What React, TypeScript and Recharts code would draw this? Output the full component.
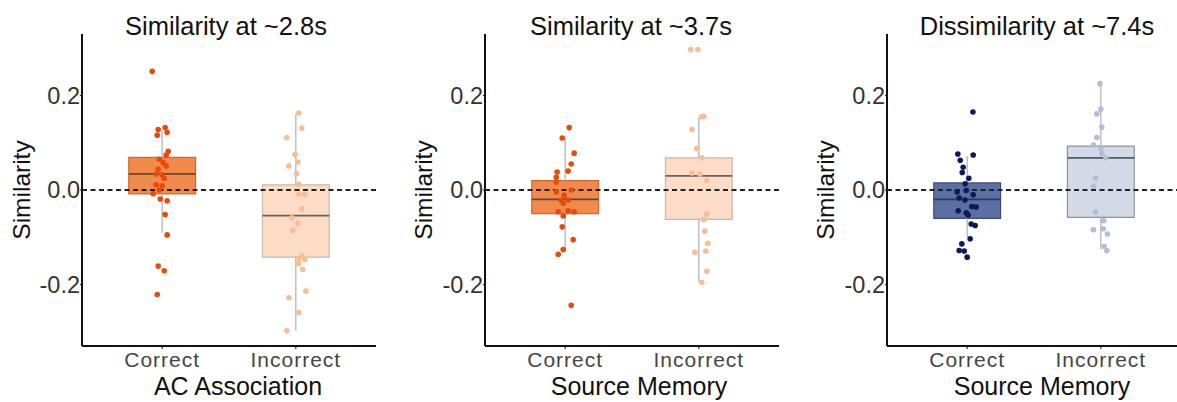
import React from "react";
import {
  ReferenceArea,
  ReferenceLine,
  Scatter,
  ScatterChart,
  XAxis,
  YAxis,
} from "recharts";

const FONT = '"Liberation Sans", Arial, Helvetica, sans-serif';

const categories = ["Correct", "Incorrect"];
const yTicks = [-0.2, 0, 0.2];

const panelTitles = [
  "Similarity at ~2.8s",
  "Similarity at ~3.7s",
  "Dissimilarity at ~7.4s",
];
const panelXTitles = ["AC Association", "Source Memory", "Source Memory"];

// box stats: lower whisker, q1, median, q3, upper whisker

// panel 1 - AC association
const acCorrect = [
  0.251, 0.128, 0.132, 0.122, 0.116, 0.082, 0.074, 0.065, 0.058, 0.051, 0.044,
  0.034, 0.032, 0.025, 0.011, 0.009, 0.0, -0.008, -0.019, -0.023, -0.052,
  -0.095, -0.161, -0.171, -0.221,
];
const acCorrectJitter = [
  -0.075, -0.03, 0.022, 0.037, -0.037, 0.045, 0.03, -0.022, 0.007, 0.03, -0.03,
  -0.045, 0, 0.015, -0.045, 0, -0.022, -0.067, -0.015, 0.037, 0.022, 0.037,
  -0.03, 0.015, -0.037,
];
const acIncorrect = [
  0.163, 0.131, 0.111, 0.075, 0.059, 0.051, 0.035, 0.012, -0.009, -0.009,
  -0.04, -0.059, -0.07, -0.086, -0.139, -0.146, -0.147, -0.156, -0.168, -0.214,
  -0.228, -0.259, -0.298,
];
const acIncorrectJitter = [
  0.022, 0.045, -0.067, -0.007, 0.015, -0.052, 0.007, 0.022, 0.022, 0.067,
  0.045, -0.03, 0.015, -0.022, 0.045, 0.022, 0.067, 0.022, 0.052, 0.075,
  -0.052, 0.022, -0.067,
];
const acCorrectBox = [-0.091, -0.008, 0.034, 0.069, 0.126];
const acIncorrectBox = [-0.297, -0.142, -0.054, 0.011, 0.162];

// panel 2 - source memory ~3.7s
const smCorrect = [
  0.132, 0.11, 0.078, 0.055, 0.04, 0.038, 0.027, 0.017, 0.0, -0.004, -0.011,
  -0.021, -0.021, -0.028, -0.046, -0.044, -0.046, -0.055, -0.078, -0.105,
  -0.126, -0.136, -0.244,
];
const smCorrectJitter = [
  0.03, -0.022, 0.067, 0.045, 0.022, -0.06, -0.067, -0.067, 0.045, -0.067,
  -0.007, 0.022, -0.03, -0.015, -0.052, 0.022, 0.067, -0.015, -0.022, 0.06,
  -0.015, -0.052, 0.045,
];
const smIncorrect = [
  0.297, 0.297, 0.155, 0.156, 0.128, 0.088, 0.068, 0.036, 0.034, 0.02, -0.051,
  -0.063, -0.087, -0.113, -0.132, -0.129, -0.172, -0.195,
];
const smIncorrectJitter = [
  -0.06, -0.007, 0.022, 0.037, -0.052, -0.015, 0.022, -0.052, 0.007, 0.06,
  0.06, 0.037, 0.045, 0.067, -0.03, 0.052, 0.06, 0.022,
];
const smCorrectBox = [-0.13, -0.05, -0.02, 0.02, 0.111];
const smIncorrectBox = [-0.194, -0.062, 0.03, 0.068, 0.153];

// panel 3 - source memory ~7.4s
const dsCorrect = [
  0.165, 0.076, 0.074, 0.063, 0.048, 0.037, 0.025, 0.013, -0.004, -0.001,
  -0.01, -0.017, -0.021, -0.035, -0.036, -0.044, -0.048, -0.053, -0.072,
  -0.075, -0.103, -0.114, -0.128, -0.129, -0.142,
];
const dsCorrectJitter = [
  0.043, -0.07, 0.045, -0.052, -0.03, -0.037, 0.012, -0.015, -0.075, -0.007,
  0.045, -0.06, -0.017, 0.035, 0.067, -0.067, -0.007, 0.007, 0.03, 0.06, 0.022,
  -0.04, -0.06, -0.022, 0,
];
const dsIncorrect = [
  0.225, 0.171, 0.161, 0.133, 0.111, 0.095, 0.088, 0.077, 0.068, 0.025, 0.008,
  -0.046, -0.065, -0.084, -0.082, -0.093, -0.119, -0.128,
];
const dsIncorrectJitter = [
  -0.007, 0, -0.03, 0.007, -0.03, -0.055, 0, 0.007, 0.037, -0.04, -0.055,
  -0.04, 0.022, -0.055, 0.018, 0.05, 0.025, 0.045,
];
const dsCorrectBox = [-0.1, -0.06, -0.02, 0.015, 0.072];
const dsIncorrectBox = [-0.126, -0.058, 0.068, 0.093, 0.226];

const ORANGE = { box: "#f28a4c", border: "#c96a32", median: "#5a4a40", dot: "#e84a08" };
const PEACH = { box: "#fcdcc6", border: "#c7b9ae", median: "#6a625c", dot: "#f8bd94" };
const NAVY = { box: "#5b6fa2", border: "#3e4d76", median: "#2c3858", dot: "#0c1a58" };
const MIST = { box: "#d4d9e7", border: "#8d93a5", median: "#555a66", dot: "#b4bdd8" };

type Group = {
  values: number[];
  jitter: number[];
  box: number[];
  colors: typeof ORANGE;
};

type PanelProps = {
  left: number;
  title: string;
  titleX: number;
  xTitle: string;
  xTitleX: number;
  yLabelX: number;
  groups: Group[];
};

function Panel({ left, title, titleX, xTitle, xTitleX, yLabelX, groups }: PanelProps) {
  return (
    <>
      <div
        style={{
          position: "absolute",
          left: titleX - 150,
          width: 300,
          top: 13.5,
          fontSize: 25.5,
          lineHeight: "25px",
          textAlign: "center",
          color: "#111",
          whiteSpace: "nowrap",
        }}
      >
        {title}
      </div>

      <div
        style={{
          position: "absolute",
          left: yLabelX - 100,
          width: 200,
          top: 190 - 12,
          fontSize: 24.5,
          lineHeight: "24px",
          textAlign: "center",
          color: "#111",
          transform: "rotate(-90deg)",
          transformOrigin: "center",
        }}
      >
        Similarity
      </div>

      <div
        style={{
          position: "absolute",
          left: xTitleX - 150,
          width: 300,
          top: 374,
          fontSize: 25,
          lineHeight: "25px",
          textAlign: "center",
          color: "#111",
          whiteSpace: "nowrap",
        }}
      >
        {xTitle}
      </div>

      <div style={{ position: "absolute", left, top: 0 }}>
        <ScatterChart
          width={380}
          height={402}
          margin={{ top: 34, right: 4, bottom: 0, left: 0 }}
        >
          <XAxis
            type="number"
            dataKey="x"
            domain={[0.4, 2.6]}
            ticks={[1, 2]}
            allowDataOverflow
            height={56}
            tickSize={3}
            tickMargin={3}
            tickFormatter={(v: number) => categories[Math.round(v) - 1]}
            axisLine={{ stroke: "#111", strokeWidth: 2 }}
            tickLine={{ stroke: "#111" }}
            tick={{
              fontSize: 21,
              fill: "#454545",
              fontFamily: FONT,
              letterSpacing: 1,
            }}
          />
          <YAxis
            type="number"
            dataKey="y"
            domain={[-0.33, 0.33]}
            ticks={yTicks}
            allowDataOverflow
            width={82}
            tickSize={2}
            tickMargin={0}
            tickFormatter={(v: number) => v.toFixed(1)}
            axisLine={{ stroke: "#111", strokeWidth: 2 }}
            tickLine={{ stroke: "#111" }}
            tick={{ fontSize: 23.5, fill: "#333", fontFamily: FONT }}
          />

          {groups.map((g, i) => {
            const pos = i + 1;
            const [lo, q1, med, q3, hi] = g.box;
            return (
              <React.Fragment key={i}>
                <ReferenceLine
                  segment={[
                    { x: pos, y: lo },
                    { x: pos, y: q1 },
                  ]}
                  stroke="#b5b5b5"
                  strokeWidth={1.3}
                />
                <ReferenceLine
                  segment={[
                    { x: pos, y: q3 },
                    { x: pos, y: hi },
                  ]}
                  stroke="#b5b5b5"
                  strokeWidth={1.3}
                />
                <ReferenceArea
                  x1={pos - 0.25}
                  x2={pos + 0.25}
                  y1={q1}
                  y2={q3}
                  fill={g.colors.box}
                  fillOpacity={1}
                  stroke={g.colors.border}
                  strokeWidth={1.2}
                  zIndex={100}
                />
                <ReferenceLine
                  segment={[
                    { x: pos - 0.25, y: med },
                    { x: pos + 0.25, y: med },
                  ]}
                  stroke={g.colors.median}
                  strokeWidth={1.8}
                  zIndex={450}
                />
              </React.Fragment>
            );
          })}

          <ReferenceLine
            y={0}
            stroke="#222"
            strokeWidth={1.8}
            strokeDasharray="5 3.5"
            zIndex={500}
          />

          {groups.map((g, i) => (
            <Scatter
              key={"s" + i}
              data={g.values.map((v, k) => ({ x: i + 1 + g.jitter[k], y: v }))}
              isAnimationActive={false}
              zIndex={600}
              shape={(p: any) => (
                <circle cx={p.cx} cy={p.cy} r={2.8} fill={g.colors.dot} />
              )}
            />
          ))}
        </ScatterChart>
      </div>
    </>
  );
}

export default function App() {
  return (
    <div
      style={{
        position: "absolute",
        left: 0,
        top: 0,
        width: 1177,
        height: 402,
        overflow: "hidden",
        background: "#fff",
        fontFamily: FONT,
      }}
    >
      <Panel
        left={0}
        title={panelTitles[0]}
        titleX={226}
        xTitle={panelXTitles[0]}
        xTitleX={238}
        yLabelX={22}
        groups={[
          { values: acCorrect, jitter: acCorrectJitter, box: acCorrectBox, colors: ORANGE },
          { values: acIncorrect, jitter: acIncorrectJitter, box: acIncorrectBox, colors: PEACH },
        ]}
      />
      <Panel
        left={403}
        title={panelTitles[1]}
        titleX={631}
        xTitle={panelXTitles[1]}
        xTitleX={639}
        yLabelX={424}
        groups={[
          { values: smCorrect, jitter: smCorrectJitter, box: smCorrectBox, colors: ORANGE },
          { values: smIncorrect, jitter: smIncorrectJitter, box: smIncorrectBox, colors: PEACH },
        ]}
      />
      <Panel
        left={805}
        title={panelTitles[2]}
        titleX={1037}
        xTitle={panelXTitles[2]}
        xTitleX={1042}
        yLabelX={826}
        groups={[
          { values: dsCorrect, jitter: dsCorrectJitter, box: dsCorrectBox, colors: NAVY },
          { values: dsIncorrect, jitter: dsIncorrectJitter, box: dsIncorrectBox, colors: MIST },
        ]}
      />
    </div>
  );
}
